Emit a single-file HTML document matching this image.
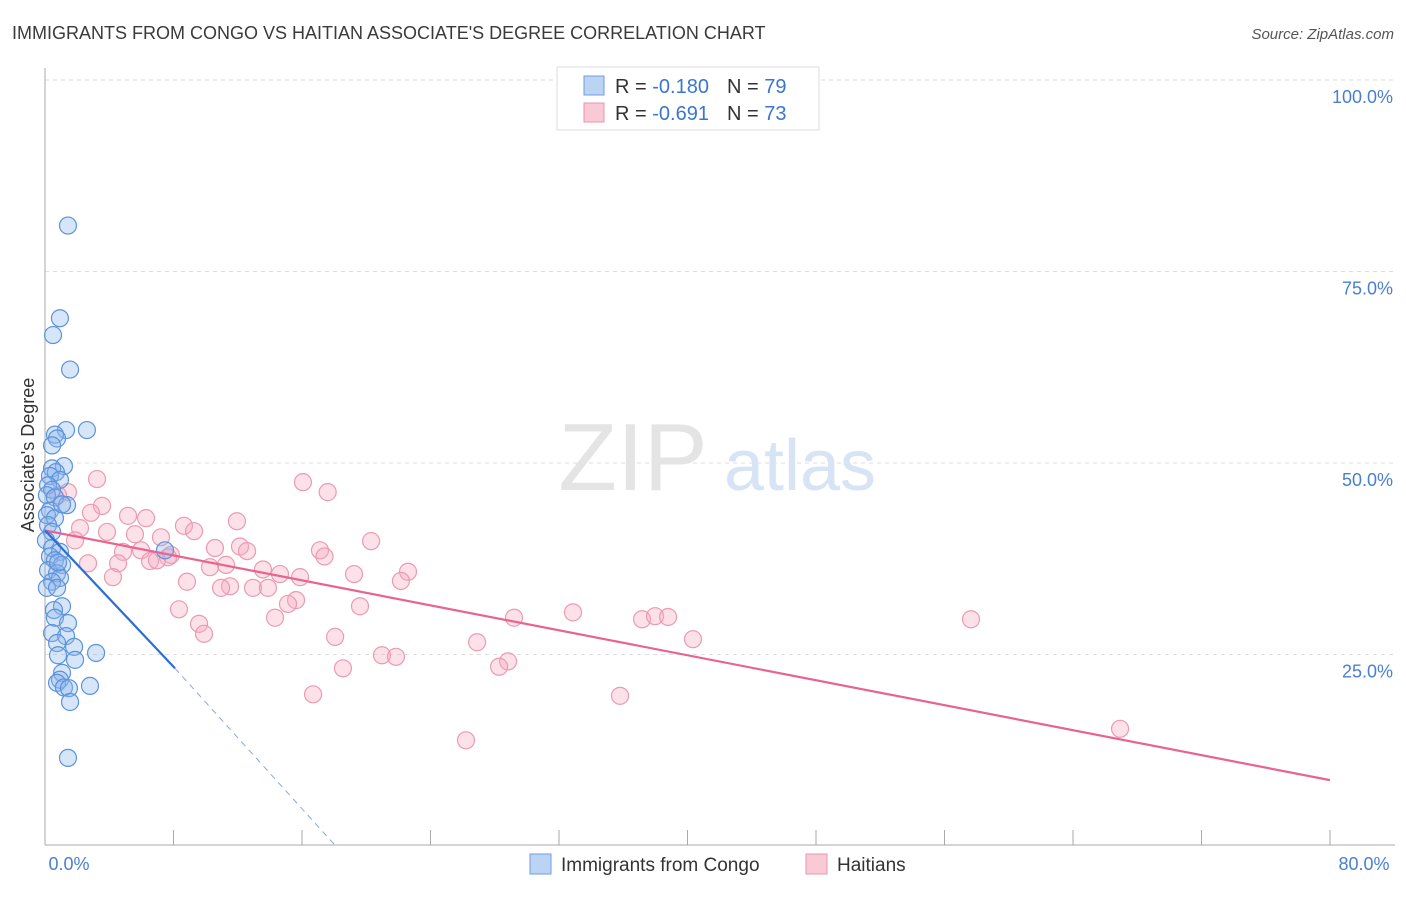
<!DOCTYPE html>
<html><head><meta charset="utf-8"><style>
body{margin:0;background:#fff;font-family:"Liberation Sans",sans-serif;}
svg text{font-family:"Liberation Sans",sans-serif;}
</style></head><body>
<svg width="1406" height="892" viewBox="0 0 1406 892" xmlns="http://www.w3.org/2000/svg">
<text x="12" y="39" font-size="18" fill="#3a3a3a">IMMIGRANTS FROM CONGO VS HAITIAN ASSOCIATE'S DEGREE CORRELATION CHART</text>
<text x="1394" y="39" font-size="15" fill="#555" font-style="italic" text-anchor="end">Source: ZipAtlas.com</text>
<g id="grid"></g>
<g>
<text x="633" y="490" font-size="96" fill="#e4e4e4" font-family="Liberation Serif" text-anchor="middle">ZIP</text>
<text x="800" y="490" font-size="72" fill="#d6e4f5" text-anchor="middle">atlas</text>
</g>
<line x1="45" y1="68" x2="45" y2="845" stroke="#aaa"/>
<line x1="45" y1="845" x2="1395" y2="845" stroke="#aaa"/>
<g id="xticks"></g>
<g id="ylabels"></g>
<text x="69" y="870" font-size="18" fill="#4a7fd0" text-anchor="middle">0.0%</text>
<text x="1364" y="870" font-size="18" fill="#4a7fd0" text-anchor="middle">80.0%</text>
<text transform="translate(34,455) rotate(-90)" font-size="18" fill="#333" text-anchor="middle">Associate's Degree</text>
<g id="pink"></g>
<g id="blue"></g>
<g id="trends"></g>
<g>
<rect x="557" y="67" width="262" height="63" fill="#fff" stroke="#ddd"/>
<rect x="584" y="76" width="20" height="19" fill="#bcd4f4" stroke="#6d9de0"/>
<rect x="584" y="103" width="20" height="19" fill="#f9c9d6" stroke="#e895ae"/>
<text x="615" y="93" font-size="20" fill="#333">R = <tspan fill="#3a76d0">-0.180</tspan><tspan dx="18">N = </tspan><tspan fill="#3a76d0">79</tspan></text>
<text x="615" y="120" font-size="20" fill="#333">R = <tspan fill="#3a76d0">-0.691</tspan><tspan dx="18">N = </tspan><tspan fill="#3a76d0">73</tspan></text>
</g>
<g>
<rect x="530" y="854" width="21" height="20" fill="#bcd4f4" stroke="#6d9de0"/>
<text x="561" y="871" font-size="19" fill="#333">Immigrants from Congo</text>
<rect x="806" y="854" width="21" height="20" fill="#f9c9d6" stroke="#e895ae"/>
<text x="837" y="871" font-size="19" fill="#333">Haitians</text>
</g>
</svg>
<script>
const yTicks=[25,50,75,100];
const yTickLabels=["25.0%","50.0%","75.0%","100.0%"];
const xTicks=[0,8,16,24,32,40,48,56,64,72,80];
const congoX=[1.43,0.93,0.5,1.56,2.61,1.31,0.62,0.75,0.44,1.18,0.44,0.68,0.31,0.93,0.19,0.44,0.12,0.62,1.37,0.31,0.12,0.62,0.19,0.44,0.06,0.44,0.93,7.47,0.31,0.62,1.06,0.19,0.75,0.93,0.44,0.12,0.75,1.06,0.56,0.62,1.43,0.44,1.31,0.75,1.81,3.18,0.81,1.87,1.06,0.93,0.75,1.18,1.49,2.8,1.56,1.43,1.06,0.81];
const congoY=[81.0,68.9,66.7,62.2,54.3,54.3,53.7,53.2,52.3,49.6,49.3,48.8,48.3,47.8,47.1,46.5,45.8,45.5,44.5,43.8,43.2,42.8,41.9,41.0,39.9,38.9,38.4,38.6,37.8,37.3,36.7,36.0,35.6,35.0,34.5,33.7,33.7,31.3,30.8,29.8,29.1,27.8,27.4,26.5,26.0,25.2,24.9,24.3,22.6,21.7,21.3,20.7,20.6,20.9,18.8,11.5,44.6,37.0];
const haitiX=[3.24,16.06,17.6,1.43,0.81,3.55,2.86,5.17,6.29,11.95,8.65,9.28,2.18,3.86,5.6,7.22,1.87,20.3,12.14,10.58,12.58,5.98,4.86,17.12,17.4,7.84,7.66,6.54,6.97,2.68,4.55,11.27,10.27,13.57,22.6,19.24,14.63,15.88,4.23,22.16,8.84,11.52,10.96,12.95,13.88,15.63,15.13,19.61,8.34,32.87,29.2,37.17,37.98,38.79,57.65,14.32,9.59,9.9,18.06,40.34,26.9,20.98,21.85,28.83,28.27,18.55,16.69,35.8,26.21,66.93];
const haitiY=[47.9,47.5,46.2,46.2,45.8,44.4,43.5,43.1,42.8,42.4,41.8,41.1,41.5,41.0,40.7,40.3,39.9,39.8,39.1,38.9,38.5,38.6,38.4,38.6,37.8,38.0,37.7,37.2,37.3,36.9,36.9,36.7,36.4,36.1,35.8,35.5,35.5,35.1,35.1,34.6,34.5,33.9,33.7,33.7,33.7,32.1,31.6,31.3,30.9,30.5,29.8,29.6,30.0,29.9,29.6,29.8,29.0,27.7,27.3,27.0,26.6,24.9,24.7,24.1,23.4,23.2,19.8,19.6,13.8,15.3];
const pinkTrend=[[0,41.2],[80,8.6]];
const blueTrend=[[0,41.2],[8.09,23.2]];
const blueDash=[[8.09,23.2],[18.1,0]];
const NS="http://www.w3.org/2000/svg";
const sx=v=>45+v/80*1285, sy=v=>846-v/100*766;
function mk(t,a,p){const e=document.createElementNS(NS,t);for(const k in a)e.setAttribute(k,a[k]);p.appendChild(e);return e;}
const grid=document.getElementById('grid'),yl=document.getElementById('ylabels'),xt=document.getElementById('xticks');
yTicks.forEach((v,i)=>{
 const l=mk('line',{x1:45,x2:1395,y1:sy(v),y2:sy(v),stroke:'#ddd','stroke-dasharray':'4,4'},grid);
 
 
 const t=mk('text',{x:1393,y:sy(v)+23,'font-size':18,fill:'#4a7fd0','text-anchor':'end'},yl);
 t.textContent=yTickLabels[i];
 
 
});
xTicks.forEach(v=>{
 const l=mk('line',{x1:sx(v),x2:sx(v),y1:830,y2:845,stroke:'#aaa'},xt);
 
 
});
const pg=document.getElementById('pink');
haitiX.forEach((x,i)=>{
 const c=mk('circle',{cx:sx(x),cy:sy(haitiY[i]),r:8.5,fill:'rgba(246,170,192,0.35)',stroke:'#ec9ab2','stroke-width':1.2},pg);
 
 
});
const bg=document.getElementById('blue');
congoX.forEach((x,i)=>{
 const c=mk('circle',{cx:sx(x),cy:sy(congoY[i]),r:8.5,fill:'rgba(140,180,235,0.35)',stroke:'#5b93dd','stroke-width':1.2},bg);
 
 
});
const tg=document.getElementById('trends');
function ln(p,st,w,d,name){const l=mk('line',{x1:sx(p[0][0]),y1:sy(p[0][1]),x2:sx(p[1][0]),y2:sy(p[1][1]),stroke:st,'stroke-width':w},tg);if(d)l.setAttribute('stroke-dasharray',d);
 
 }
ln(pinkTrend,'#e8648f',2.2,null,'haitians-trend');
ln(blueTrend,'#2b6fd6',2.2,null,'congo-trend');
ln(blueDash,'#8aa9d8',1,'6,5','congo-trend-extension');
</script>
</body></html>
